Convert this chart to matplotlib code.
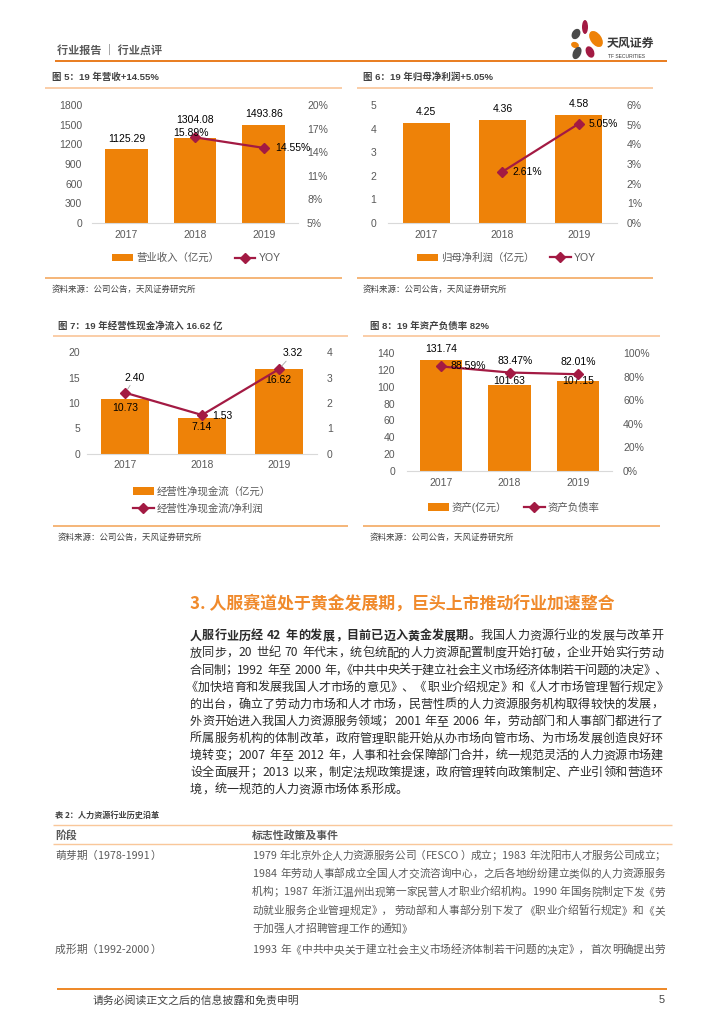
import numpy as np
import matplotlib
matplotlib.use('Agg')
import matplotlib.pyplot as plt
from matplotlib.patches import Ellipse

# ---------------- data ----------------
years = ['2017', '2018', '2019']
revenue = [1125.29, 1304.08, 1493.86]
revenue_yoy = [np.nan, 15.89, 14.55]
net_profit = [4.25, 4.36, 4.58]
net_profit_yoy = [np.nan, 2.61, 5.05]
op_cashflow = [10.73, 7.14, 16.62]
cash_to_profit = [2.40, 1.53, 3.32]
assets = [131.74, 101.63, 107.15]
debt_ratio = [88.59, 83.47, 82.01]

rev_ticks = [0, 300, 600, 900, 1200, 1500, 1800]
rev_yoy_ticks = [5, 8, 11, 14, 17, 20]
np_ticks = [0, 1, 2, 3, 4, 5]
np_yoy_ticks = [0, 1, 2, 3, 4, 5, 6]
ocf_ticks = [0, 5, 10, 15, 20]
ratio_ticks = [0, 1, 2, 3, 4]
asset_ticks = [0, 20, 40, 60, 80, 100, 120, 140]
debt_ticks = [0, 20, 40, 60, 80, 100]

chart_titles = ['图 5：19 年营收+14.55%', '图 6：19 年归母净利润+5.05%',
                '图 7：19 年经营性现金净流入 16.62 亿', '图 8：19 年资产负债率 82%']
source_text = '资料来源：公司公告，天风证券研究所'
legend_labels = [('营业收入（亿元）', 'YOY'), ('归母净利润（亿元）', 'YOY'),
                 ('经营性净现金流（亿元）', '经营性净现金流/净利润'), ('资产(亿元）', '资产负债率')]

heading = '3. 人服赛道处于黄金发展期，巨头上市推动行业加速整合'
body_bold = '人服行业历经 42 年的发展，目前已迈入黄金发展期。'
body_lines = [
    '我国人力资源行业的发展与改革开',
    '放同步，20 世纪 70 年代末，统包统配的人力资源配置制度开始打破，企业开始实行劳动',
    '合同制；1992 年至 2000 年,《中共中央关于建立社会主义市场经济体制若干问题的决定》、',
    '《加快培育和发展我国人才市场的意见》、《职业介绍规定》和《人才市场管理暂行规定》',
    '的出台，确立了劳动力市场和人才市场，民营性质的人力资源服务机构取得较快的发展，',
    '外资开始进入我国人力资源服务领域；2001 年至 2006 年，劳动部门和人事部门都进行了',
    '所属服务机构的体制改革，政府管理职能开始从办市场向管市场、为市场发展创造良好环',
    '境转变；2007 年至 2012 年，人事和社会保障部门合并，统一规范灵活的人力资源市场建',
    '设全面展开；2013 以来，制定法规政策提速，政府管理转向政策制定、产业引领和营造环',
    '境，统一规范的人力资源市场体系形成。',
]
table_title = '表 2：人力资源行业历史沿革'
table_header = ['阶段', '标志性政策及事件']
table_stage = ['萌芽期（1978-1991）', '成形期（1992-2000）']
table_events_1 = [
    '1979 年北京外企人力资源服务公司（FESCO）成立；1983 年沈阳市人才服务公司成立；',
    '1984 年劳动人事部成立全国人才交流咨询中心，之后各地纷纷建立类似的人力资源服务',
    '机构；1987 年浙江温州出现第一家民营人才职业介绍机构。1990 年国务院制定下发《劳',
    '动就业服务企业管理规定》，劳动部和人事部分别下发了《职业介绍暂行规定》和《关',
    '于加强人才招聘管理工作的通知》',
]
table_events_2 = ['1993 年《中共中央关于建立社会主义市场经济体制若干问题的决定》，首次明确提出劳']

# ---------------- style ----------------
LAT = ['Liberation Sans', 'Noto Sans CJK SC', 'DejaVu Sans']
CJK = ['Noto Sans CJK SC', 'DejaVu Sans']
plt.rcParams['font.family'] = LAT
ORANGE = '#EE8208'
RED = '#A31A43'
GRAY = '#595959'
LIGHT_LINE = '#FAC9A0'
MID_LINE = '#F2A050'

W, H = 724, 1024
fig = plt.figure(figsize=(W / 100, H / 100), dpi=100)
bg = fig.add_axes([0, 0, 1, 1])
bg.set_xlim(0, W)
bg.set_ylim(H, 0)
bg.axis('off')
renderer = fig.canvas.get_renderer()


def hline(y, x0, x1, color, lw_px):
    bg.plot([x0, x1], [y, y], color=color, lw=lw_px * 0.72, solid_capstyle='butt')


# ---------------- header ----------------
bg.text(57, 50, '行业报告 ｜ 行业点评', fontsize=8, fontweight='bold', color=GRAY,
        family=CJK, va='center', ha='left')
hline(61, 55, 667, '#E97F24', 2)
for (cx, cy, w, h, ang, col) in [(576, 34, 8, 11, 30, '#4A4A4A'), (585, 27, 6, 14, 0, '#A31A43'),
                                 (596, 39, 11, 18, -35, ORANGE), (575, 45, 8, 6, 20, ORANGE),
                                 (577, 53, 8, 13, 25, '#4A4A4A'), (590, 52, 8, 12, -25, '#A31A43')]:
    bg.add_patch(Ellipse((cx, cy), w, h, angle=ang, color=col, lw=0))
bg.text(607, 43, '天风证券', fontsize=8.6, fontweight='bold', color='#3A3A3A', family=CJK,
        va='center', ha='left')
bg.text(608, 56, 'TF SECURITIES', fontsize=3.6, color='#3A3A3A', va='center', ha='left')


# ---------------- charts ----------------
def make_chart(box, bar_vals, line_vals, lt, ll, rt, rl, pads, bar_w):
    x0, x1, yt, yb = box
    ax = fig.add_axes([x0 / W, 1 - yb / H, (x1 - x0) / W, (yb - yt) / H])
    ax2 = ax.twinx()
    x = np.arange(len(years))
    bars = ax.bar(x, bar_vals, width=bar_w, color=ORANGE, zorder=2)
    ln, = ax2.plot(x, line_vals, color=RED, lw=1.6, marker='D', ms=5, zorder=3)
    ax.set_xlim(-0.5, len(years) - 0.5)
    ax.set_ylim(lt[0], lt[-1])
    ax.set_yticks(lt)
    ax.set_yticklabels(ll)
    ax2.set_ylim(rt[0], rt[-1])
    ax2.set_yticks(rt)
    ax2.set_yticklabels(rl)
    ax.set_xticks(x)
    ax.set_xticklabels(years)
    for a in (ax, ax2):
        for s in a.spines.values():
            s.set_visible(False)
        a.patch.set_visible(False)
    ax.spines['bottom'].set_visible(True)
    ax.spines['bottom'].set_color('#D9D9D9')
    ax.spines['bottom'].set_linewidth(0.8)
    ax.tick_params(axis='y', length=0, colors=GRAY, labelsize=7.5, pad=pads[0])
    ax2.tick_params(axis='y', length=0, colors=GRAY, labelsize=7.5, pad=pads[1])
    ax.tick_params(axis='x', length=0, colors=GRAY, labelsize=7.5, pad=pads[2])
    return ax, ax2, bars, ln


def label(ax, x, y, txt, dx, dy, ha='center', arrow=False):
    kw = dict(textcoords='offset points', xytext=(dx, dy), ha=ha, va='center',
              fontsize=7.5, color='black', zorder=5)
    if arrow:
        kw['arrowprops'] = dict(arrowstyle='-', color='#A6A6A6', lw=0.6, shrinkA=0, shrinkB=3)
    ax.annotate(txt, (x, y), **kw)


def legend(ax, handles, labels, x, y, ncol, colsp, lsp=0.45):
    ax.legend(handles, labels, loc='center left', bbox_to_anchor=(x / W, 1 - y / H),
              bbox_transform=fig.transFigure, ncol=ncol, frameon=False, fontsize=7.5,
              handlelength=2.0, handleheight=0.7, handletextpad=0.3, columnspacing=colsp,
              borderpad=0, borderaxespad=0, labelcolor=GRAY, labelspacing=lsp)


# chart 5
ax, ax2, b, ln = make_chart((92, 298, 105, 223), revenue, revenue_yoy, rev_ticks,
                            [str(t) for t in rev_ticks], rev_yoy_ticks,
                            [f'{t}%' for t in rev_yoy_ticks], (7, 6.5, 5), 0.62)
for i, (v, dy) in enumerate(zip(revenue, [7.2, 12.6, 8])):
    label(ax, i, v, f'{v:.2f}', 0, dy)
label(ax2, 1, revenue_yoy[1], f'{revenue_yoy[1]:.2f}%', -3, 3)
label(ax2, 2, revenue_yoy[2], f'{revenue_yoy[2]:.2f}%', 8, 0, ha='left')
legend(ax2, [b, ln], list(legend_labels[0]), 112, 258, 2, 1.5)

# chart 6
ax, ax2, b, ln = make_chart((388, 617, 105, 223), net_profit, net_profit_yoy, np_ticks,
                            [str(t) for t in np_ticks], np_yoy_ticks,
                            [f'{t}%' for t in np_yoy_ticks], (8.6, 7, 5), 0.62)
for i, v in enumerate(net_profit):
    label(ax, i, v, f'{v:.2f}', 0, 8)
for i in (1, 2):
    label(ax2, i, net_profit_yoy[i], f'{net_profit_yoy[i]:.2f}%', 7, 0, ha='left')
legend(ax2, [b, ln], list(legend_labels[1]), 417, 258, 2, 1.5)

# chart 7
ax, ax2, b, ln = make_chart((87, 317, 352, 454), op_cashflow, cash_to_profit, ocf_ticks,
                            [str(t) for t in ocf_ticks], ratio_ticks,
                            [str(t) for t in ratio_ticks], (5, 7, 4.5), 0.63)
for i, (v, dy) in enumerate(zip(op_cashflow, [-6, -7, -8])):
    label(ax, i, v, f'{v:.2f}', 0, dy)
label(ax2, 0, cash_to_profit[0], f'{cash_to_profit[0]:.2f}', 7, 11, arrow=True)
label(ax2, 1, cash_to_profit[1], f'{cash_to_profit[1]:.2f}', 7, -1, ha='left')
label(ax2, 2, cash_to_profit[2], f'{cash_to_profit[2]:.2f}', 10.5, 11.5, arrow=True)
legend(ax2, [b, ln], list(legend_labels[2]), 133, 500, 1, 1.5, lsp=0.62)

# chart 8
ax, ax2, b, ln = make_chart((407, 612, 353, 471), assets, debt_ratio, asset_ticks,
                            [str(t) for t in asset_ticks], debt_ticks,
                            [f'{t}%' for t in debt_ticks], (8.6, 8, 5), 0.62)
for i, (v, dy) in enumerate(zip(assets, [8, 3, 0])):
    label(ax, i, v, f'{v:.2f}', 0, dy)
label(ax2, 0, debt_ratio[0], f'{debt_ratio[0]:.2f}%', 7, 0, ha='left')
label(ax2, 1, debt_ratio[1], f'{debt_ratio[1]:.2f}%', 4, 8)
label(ax2, 2, debt_ratio[2], f'{debt_ratio[2]:.2f}%', 0, 9)
legend(ax2, [b, ln], list(legend_labels[3]), 428, 507, 2, 1.6)

# chart frames: titles, lines, sources
frames = [(52, 77, 45, 342, 88, 278, 289), (363, 77, 357, 653, 88, 278, 289),
          (58, 326, 53, 348, 336, 526, 537), (370, 326, 363, 660, 336, 526, 537)]
for title, (tx, ty, lx0, lx1, ly_top, ly_bot, sy) in zip(chart_titles, frames):
    bg.text(tx, ty, title, fontsize=6.8, fontweight='bold', color='#404040', va='center', ha='left')
    hline(ly_top, lx0, lx1, LIGHT_LINE, 1.8)
    hline(ly_bot, lx0, lx1, MID_LINE, 1.5)
    bg.text(tx, sy, source_text, fontsize=6.1, color='#404040', family=CJK, va='center', ha='left')

# ---------------- justified text ----------------
PUNCT_L = set('，。、；：！？）》」』')
PUNCT_R = set('（《「『')
PUNCT = PUNCT_L | PUNCT_R


def draw_line(segments, x0, x1, y, size, color, justify=True):
    em = size * 100 / 72
    toks = []
    for txt, wt in segments:
        buf = ''
        for ch in txt:
            if ch == ' ':
                if buf:
                    toks.append(['a', buf, wt]); buf = ''
                toks.append(['s', ' ', wt])
            elif ord(ch) < 0x2000:
                buf += ch
            else:
                if buf:
                    toks.append(['a', buf, wt]); buf = ''
                if ch in PUNCT and toks and toks[-1][0] in ('c', 'p') and \
                        all(c in PUNCT for c in toks[-1][1]):
                    toks[-1] = ['p', toks[-1][1] + ch, wt]
                else:
                    toks.append(['c', ch, wt])
        if buf:
            toks.append(['a', buf, wt])
    for t in toks:
        if t[0] == 'c':
            t.append(em)
        elif t[0] == 's':
            t.append(0.28 * em)
        else:
            o = bg.text(0, 0, t[1], fontsize=size, fontweight=t[2], family=CJK)
            t.append(o.get_window_extent(renderer).width + 0.12 * em)
            o.remove()
    natural = sum(t[3] for t in toks)
    ngaps = max(len(toks) - 1, 1)
    extra = (x1 - x0 - natural) / ngaps if justify else 0.0
    x = x0
    yb = y + 0.36 * em
    for kind, s, wt, w in toks:
        kw = dict(fontsize=size, fontweight=wt, family=CJK, color=color, va='baseline')
        if kind == 'c':
            if s in PUNCT_L:
                bg.text(x + 0.02 * em, yb, s, ha='left', **kw)
            elif s in PUNCT_R:
                bg.text(x + w - 0.02 * em, yb, s, ha='right', **kw)
            else:
                bg.text(x + w / 2, yb, s, ha='center', **kw)
        elif kind in ('a', 'p'):
            bg.text(x + 0.06 * em, yb, s, ha='left', **kw)
        x += w + extra


bg.text(190, 604, heading, fontsize=12.2, fontweight='bold', color='#F08A2C', family=CJK,
        va='center', ha='left')
BODY = '#2B2B2B'
line_x0 = [190, 190, 190, 186, 190, 190, 190, 190, 190, 190]
line_x1 = [663, 663, 669, 668, 663, 663, 663, 663, 663, 663]
for i, line in enumerate(body_lines):
    y = 635 + i * 17.1
    segs = [(body_bold, 'bold'), (line, 'normal')] if i == 0 else [(line, 'normal')]
    draw_line(segs, line_x0[i], line_x1[i], y, 8.7, BODY, justify=(i < len(body_lines) - 1))

# ---------------- table ----------------
bg.text(55, 815, table_title, fontsize=5.9, fontweight='bold', color='#404040', family=CJK,
        va='center', ha='left')
hline(825, 53, 672, '#F9C79A', 1.4)
hline(844, 53, 672, '#F9C79A', 1.4)
bg.text(55, 835, table_header[0], fontsize=7.8, fontweight='bold', color=GRAY, family=CJK,
        va='center', ha='left')
bg.text(252, 835, table_header[1], fontsize=7.8, fontweight='bold', color=GRAY, family=CJK,
        va='center', ha='left')
TGRAY = '#5A5A5A'
row_y1 = [855, 873.3, 891.6, 909.9, 928.2]
draw_line([(table_stage[0], 'normal')], 55, 200, row_y1[0], 7.7, TGRAY, justify=False)
for j, (line, y) in enumerate(zip(table_events_1, row_y1)):
    draw_line([(line, 'normal')], 252, 665, y, 7.7, TGRAY, justify=(j < len(table_events_1) - 1))
draw_line([(table_stage[1], 'normal')], 55, 200, 949, 7.7, TGRAY, justify=False)
draw_line([(table_events_2[0], 'normal')], 252, 665, 949, 7.7, TGRAY, justify=True)

# ---------------- footer ----------------
hline(989, 57, 667, '#EE8A2A', 2)
bg.text(93, 1000, '请务必阅读正文之后的信息披露和免责申明', fontsize=7.8, color='#404040',
        family=CJK, va='center', ha='left')
bg.text(662, 1000, '5', fontsize=7.8, color='#404040', va='center', ha='center')

fig.savefig('out.png', dpi=100)
